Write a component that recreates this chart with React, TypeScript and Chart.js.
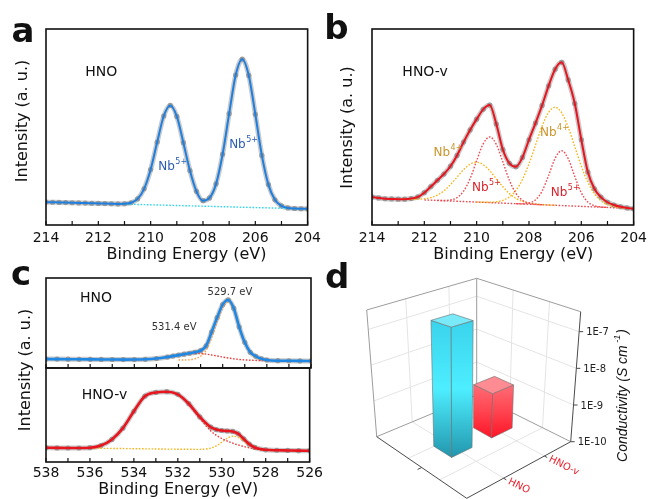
import React, { useEffect, useRef } from 'react';
import { Chart, registerables } from 'chart.js';

Chart.register(...registerables);
Chart.defaults.font.family = '"DejaVu Sans", sans-serif';
const FONT = '"DejaVu Sans", sans-serif';

// ---------------- Panel a : Nb 3d, HNO ----------------
const nbEnergy = [214, 213.75, 213.5, 213.25, 213, 212.75, 212.5, 212.25, 212, 211.75, 211.5, 211.25, 211, 210.75, 210.5, 210.25, 210, 209.75, 209.5, 209.25, 209, 208.75, 208.5, 208.25, 208, 207.75, 207.5, 207.25, 207, 206.75, 206.5, 206.25, 206, 205.75, 205.5, 205.25, 205, 204.75, 204.5, 204.25, 204];
const hnoNbFit = [11.7, 11.61, 11.53, 11.44, 11.35, 11.26, 11.18, 11.09, 11.0, 10.91, 10.83, 10.77, 10.83, 11.36, 13.32, 18.45, 28.3, 42.3, 55.6, 61.0, 55.4, 42.0, 27.8, 17.2, 12.4, 13.8, 21.0, 36.1, 56.8, 76.5, 84.6, 76.3, 56.5, 35.5, 20.6, 12.85, 9.73, 8.72, 8.43, 8.29, 8.2];
const hnoNbBaseEnergy = [211, 204];
const hnoNbBase = [10.65, 8.2];

// ---------------- Panel b : Nb 3d, HNO-v ----------------
const hnovNbFit = [14.3, 13.8, 13.4, 13.3, 13.2, 13.2, 13.5, 14.3, 16.5, 19.6, 22.8, 26.0, 30.0, 35.5, 42.3, 48.5, 54.0, 59.0, 61.2, 51.5, 38.5, 31.5, 29.7, 34.5, 43.5, 52.0, 61.0, 71.0, 79.5, 83.0, 74.0, 62.0, 43.5, 27.0, 18.5, 14.2, 11.6, 10.2, 9.3, 8.7, 8.3];
const hnovNbBaseEnergy = [212, 204];
const hnovNbBase = [12.8, 8.4];
const nb5HighEnergy = [211.5, 211.25, 211, 210.75, 210.5, 210.25, 210, 209.75, 209.5, 209.25, 209, 208.75, 208.5, 208.25, 208, 207.75, 207.5];
const nb5High = [12.55, 12.51, 12.77, 13.98, 17.27, 23.67, 32.8, 41.41, 44.93, 41.14, 32.25, 22.84, 16.17, 12.61, 11.12, 10.58, 10.35];
const nb4HighEnergy = [213, 212.75, 212.5, 212.25, 212, 211.75, 211.5, 211.25, 211, 210.75, 210.5, 210.25, 210, 209.75, 209.5, 209.25, 209, 208.75, 208.5, 208.25, 208, 207.75, 207.5, 207.25, 207];
const nb4High = [13.36, 13.23, 13.16, 13.17, 13.38, 13.99, 15.27, 17.44, 20.59, 24.43, 28.24, 31.04, 32.0, 30.76, 27.69, 23.61, 19.49, 16.06, 13.62, 12.07, 11.18, 10.69, 10.41, 10.21, 10.06];
const nb5LowEnergy = [208.5, 208.25, 208, 207.75, 207.5, 207.25, 207, 206.75, 206.5, 206.25, 206, 205.75, 205.5, 205.25, 205];
const nb5Low = [10.89, 10.85, 11.19, 12.83, 17.3, 25.28, 34.05, 37.91, 33.78, 24.73, 16.47, 11.73, 9.82, 9.2, 8.96];
const nb4LowEnergy = [210, 209.75, 209.5, 209.25, 209, 208.75, 208.5, 208.25, 208, 207.75, 207.5, 207.25, 207, 206.75, 206.5, 206.25, 206, 205.75, 205.5, 205.25, 205, 204.75, 204.5, 204.25, 204];
const nb4Low = [11.72, 11.62, 11.63, 11.85, 12.58, 14.3, 17.63, 23.19, 31.15, 40.81, 50.38, 57.49, 60.05, 57.21, 49.83, 39.99, 30.05, 21.81, 15.98, 12.38, 10.38, 9.37, 8.88, 8.6, 8.42];

// ---------------- Panel c : O 1s ----------------
const o1sTopEnergy = [538, 537.5, 537, 536.5, 536, 535.5, 535, 534.5, 534, 533.5, 533, 532.5, 532.25, 532, 531.75, 531.5, 531.25, 531, 530.75, 530.5, 530.25, 530, 529.75, 529.5, 529.25, 529, 528.75, 528.5, 528.25, 528, 527.5, 527, 526.5, 526];
const hnoO1sFit = [9.96, 9.87, 9.78, 9.69, 9.6, 9.51, 9.43, 9.36, 9.39, 9.68, 10.55, 12.19, 13.25, 14.33, 15.37, 16.37, 17.5, 19.2, 24.5, 40.0, 56.0, 70.4, 75.6, 66.5, 45.5, 28.5, 17.5, 13.0, 10.3, 8.9, 8.1, 7.98, 7.89, 7.8];
const hnoLatticeEnergy = [532, 531.75, 531.5, 531.25, 531, 530.75, 530.5, 530.25, 530, 529.75, 529.5, 529.25, 529, 528.75, 528.5, 528.25, 528, 527.5];
const hnoLattice = [8.89, 8.92, 9.2, 10.32, 13.0, 19.5, 33.5, 51.0, 66.5, 73.0, 64.5, 44.0, 27.0, 16.5, 11.5, 9.2, 8.4, 8.08];
const hnoDefectEnergy = [535, 534.5, 534, 533.5, 533, 532.5, 532.25, 532, 531.75, 531.5, 531.25, 531, 530.75, 530.5, 530.25, 530, 529.75, 529.5, 529.25, 529, 528.75, 528.5, 528.25, 528, 527.5];
const hnoDefect = [9.43, 9.36, 9.39, 9.68, 10.55, 12.19, 13.25, 14.33, 15.29, 15.96, 16.25, 16.05, 15.44, 14.48, 13.35, 12.17, 11.1, 10.2, 9.51, 9.01, 8.67, 8.45, 8.31, 8.2, 8.08];

const o1sBotEnergy = [538, 537.5, 537, 536.5, 536, 535.5, 535, 534.5, 534, 533.5, 533, 532.5, 532, 531.5, 531, 530.5, 530.25, 530, 529.75, 529.5, 529.25, 529, 528.75, 528.5, 528, 527.5, 527, 526.5, 526];
const hnovO1sFit = [15.2, 15.0, 14.9, 14.9, 15.2, 17.5, 24.0, 36.0, 54.0, 70.0, 74.0, 74.8, 72.0, 62.0, 48.0, 37.0, 34.5, 33.5, 33.0, 32.5, 30.0, 24.5, 19.0, 15.5, 13.0, 12.5, 12.3, 12.1, 12.0];
const hnovDefectEnergy = [538, 537, 536, 535.5, 535, 534.5, 534, 533.5, 533, 532.5, 532, 531.5, 531, 530.5, 530, 529.5, 529, 528.5, 528, 527, 526];
const hnovDefect = [15.24, 14.97, 15.0, 17.4, 23.8, 35.8, 53.8, 69.8, 73.8, 74.6, 71.5, 61.0, 46.5, 33.0, 25.0, 20.0, 16.5, 14.0, 13.0, 12.27, 12.0];
const hnovLatticeEnergy = [538, 536, 534, 532, 531, 530.5, 530.25, 530, 529.75, 529.5, 529.25, 529, 528.75, 528.5, 528, 527.5, 527, 526];
const hnovLattice = [15.24, 14.7, 14.16, 13.62, 13.47, 14.8, 17.1, 21.0, 25.1, 27.35, 26.28, 22.5, 18.14, 15.07, 12.74, 12.4, 12.27, 12.0];

// ---------------- Panel d : conductivity ----------------
const samples = ['HNO-v', 'HNO'];
const conductivity = [1.6e-9, 2.3e-7];

const xTitleText = 'Binding Energy (eV)';
const yTitleText = 'Intensity (a. u.)';

type P = { x: number; y: number };
const pts = (xs: number[], ys: number[]): P[] => xs.map((x, i) => ({ x, y: ys[i] }));

const fitLine = (data: P[], color: string, width = 2) => ({
  data, borderColor: color, borderWidth: width, pointRadius: 0,
  cubicInterpolationMode: 'monotone', fill: false, order: 0,
});
const dotted = (data: P[], color: string) => ({
  data, borderColor: color, borderWidth: 1.4, borderDash: [1.6, 1.6], pointRadius: 0,
  cubicInterpolationMode: 'monotone', fill: false, order: 1,
});
const markers = (data: P[]) => ({
  data, showLine: false, pointRadius: 2.6, pointBackgroundColor: 'rgba(135,135,135,0.75)',
  pointBorderWidth: 0, order: 2,
});
const band = (data: P[]) => ({
  data, borderColor: 'rgba(150,150,150,0.5)', borderWidth: 5, pointRadius: 0,
  cubicInterpolationMode: 'monotone', fill: false, order: 3,
});

type Note = { x: number; y: number; text: string; sup?: string; color: string; size: number; center?: boolean };
type DecorOpts = { letter?: { text: string; x: number; y: number }; xTitle?: P; yTitle?: P; notes?: Note[] };

function decor(o: DecorOpts) {
  return {
    id: 'decor',
    afterDraw(chart: any) {
      const { ctx, chartArea: ca } = chart;
      const xs = chart.scales.x;
      const ys = chart.scales.y;
      ctx.save();
      ctx.strokeStyle = '#111';
      ctx.lineWidth = 1.2;
      for (let e = Math.ceil(xs.min); e <= Math.floor(xs.max); e += 1) {
        const px = xs.getPixelForValue(e);
        ctx.beginPath();
        ctx.moveTo(px, ca.bottom);
        ctx.lineTo(px, ca.bottom - 4);
        ctx.stroke();
      }
      ctx.lineWidth = 1.6;
      ctx.strokeRect(ca.left, ca.top, ca.right - ca.left, ca.bottom - ca.top);
      for (const n of o.notes ?? []) {
        ctx.font = `${n.size}px ${FONT}`;
        ctx.fillStyle = n.color;
        ctx.textBaseline = 'middle';
        ctx.textAlign = 'left';
        const w = ctx.measureText(n.text).width;
        const px = xs.getPixelForValue(n.x);
        const py = ys.getPixelForValue(n.y);
        const left = n.center ? px - w / 2 : px;
        ctx.fillText(n.text, left, py);
        if (n.sup) {
          ctx.font = `${Math.round(n.size * 0.65)}px ${FONT}`;
          ctx.fillText(n.sup, left + w + 0.5, py - n.size * 0.42);
        }
      }
      ctx.fillStyle = '#111';
      if (o.xTitle) {
        ctx.font = `16px ${FONT}`;
        ctx.textAlign = 'center';
        ctx.textBaseline = 'alphabetic';
        ctx.fillText(xTitleText, o.xTitle.x, o.xTitle.y);
      }
      if (o.yTitle) {
        ctx.save();
        ctx.translate(o.yTitle.x, o.yTitle.y);
        ctx.rotate(-Math.PI / 2);
        ctx.font = `16px ${FONT}`;
        ctx.textAlign = 'center';
        ctx.textBaseline = 'middle';
        ctx.fillText(yTitleText, 0, 0);
        ctx.restore();
      }
      if (o.letter) {
        ctx.font = `bold 34px ${FONT}`;
        ctx.textAlign = 'left';
        ctx.textBaseline = 'alphabetic';
        ctx.fillText(o.letter.text, o.letter.x, o.letter.y);
      }
      ctx.restore();
    },
  };
}

function xpsConfig(c: {
  datasets: any[]; xMin: number; xMax: number; showTicks: boolean; axisH: number; tickPad: number;
  padding: any; plugin: any;
}): any {
  return {
    type: 'line',
    data: { datasets: c.datasets },
    options: {
      animation: false,
      responsive: false,
      devicePixelRatio: 1,
      events: [],
      layout: { padding: c.padding, autoPadding: false },
      plugins: { legend: { display: false }, tooltip: { enabled: false } },
      scales: {
        x: {
          type: 'linear', reverse: true, min: c.xMin, max: c.xMax, display: c.showTicks,
          grid: { display: false, drawTicks: false }, border: { display: false },
          ticks: { stepSize: 2, autoSkip: false, maxRotation: 0, minRotation: 0, padding: c.tickPad, color: '#111', font: { family: FONT, size: 14 } },
          afterFit: (s: any) => { s.height = c.axisH; },
        },
        y: { display: false, min: 0, max: 100 },
      },
    },
    plugins: [c.plugin],
  };
}

const makeA = () => xpsConfig({
  datasets: [
    fitLine(pts(nbEnergy, hnoNbFit), '#1f7fdf', 2),
    dotted(pts(hnoNbBaseEnergy, hnoNbBase), '#2fd6f0'),
    markers(pts(nbEnergy, hnoNbFit)),
    band(pts(nbEnergy, hnoNbFit)),
  ],
  xMin: 204, xMax: 214, showTicks: true, axisH: 43, tickPad: 5,
  padding: { left: 46, top: 29, right: 14, bottom: 0 },
  plugin: decor({
    letter: { text: 'a', x: 11.5, y: 42 },
    xTitle: { x: 186.5, y: 259 },
    yTitle: { x: 23, y: 121 },
    notes: [
      { x: 212.5, y: 78, text: 'HNO', color: '#111', size: 14 },
      { x: 209.71, y: 29.6, text: 'Nb', sup: '5+', color: '#2a5db0', size: 12 },
      { x: 207.0, y: 40.8, text: 'Nb', sup: '5+', color: '#2a5db0', size: 12 },
    ],
  }),
});

const makeB = () => xpsConfig({
  datasets: [
    fitLine(pts(nbEnergy, hnovNbFit), '#e8141e', 2),
    dotted(pts(nb5HighEnergy, nb5High), '#ee4a50'),
    dotted(pts(nb5LowEnergy, nb5Low), '#ee4a50'),
    dotted(pts(nb4HighEnergy, nb4High), '#f6b51c'),
    dotted(pts(nb4LowEnergy, nb4Low), '#f6b51c'),
    dotted(pts(hnovNbBaseEnergy, hnovNbBase), '#ee4a50'),
    markers(pts(nbEnergy, hnovNbFit)),
    band(pts(nbEnergy, hnovNbFit)),
  ],
  xMin: 204, xMax: 214, showTicks: true, axisH: 43, tickPad: 5,
  padding: { left: 52, top: 29, right: 12, bottom: 0 },
  plugin: decor({
    letter: { text: 'b', x: 4.3, y: 39 },
    xTitle: { x: 193.3, y: 259 },
    yTitle: { x: 27.5, y: 127.5 },
    notes: [
      { x: 212.84, y: 78, text: 'HNO-v', color: '#111', size: 14 },
      { x: 211.65, y: 36.7, text: 'Nb', sup: '4+', color: '#c9952b', size: 12 },
      { x: 210.18, y: 18.9, text: 'Nb', sup: '5+', color: '#d8232c', size: 12 },
      { x: 207.58, y: 47.2, text: 'Nb', sup: '4+', color: '#c9952b', size: 12 },
      { x: 207.17, y: 16.6, text: 'Nb', sup: '5+', color: '#d8232c', size: 12 },
    ],
  }),
});

const makeCTop = () => xpsConfig({
  datasets: [
    fitLine(pts(o1sTopEnergy, hnoO1sFit), '#1f88e5', 2.6),
    dotted(pts(hnoLatticeEnergy, hnoLattice), '#f5a052'),
    dotted(pts(hnoDefectEnergy, hnoDefect), '#ec3b3b'),
    markers(pts(o1sTopEnergy, hnoO1sFit)),
    band(pts(o1sTopEnergy, hnoO1sFit)),
  ],
  xMin: 526, xMax: 538, showTicks: false, axisH: 0, tickPad: 0,
  padding: { left: 46, top: 16, right: 15, bottom: 2 },
  plugin: decor({
    letter: { text: 'c', x: 11, y: 23 },
    notes: [
      { x: 536.46, y: 77.8, text: 'HNO', color: '#111', size: 14 },
      { x: 529.67, y: 84.4, text: '529.7 eV', color: '#333', size: 10, center: true },
      { x: 532.2, y: 45.6, text: '531.4 eV', color: '#333', size: 10, center: true },
    ],
  }),
});

const makeCBot = () => xpsConfig({
  datasets: [
    fitLine(pts(o1sBotEnergy, hnovO1sFit), '#e8141e', 2.6),
    dotted(pts(hnovDefectEnergy, hnovDefect), '#ec3b3b'),
    dotted(pts(hnovLatticeEnergy, hnovLattice), '#f6b51c'),
    markers(pts(o1sBotEnergy, hnovO1sFit)),
    band(pts(o1sBotEnergy, hnovO1sFit)),
  ],
  xMin: 526, xMax: 538, showTicks: true, axisH: 37, tickPad: 3,
  padding: { left: 46, top: 68, right: 15, bottom: 0 },
  plugin: decor({
    xTitle: { x: 178.3, y: 193.5 },
    yTitle: { x: 26, y: 70 },
    notes: [{ x: 536.37, y: 71.3, text: 'HNO-v', color: '#111', size: 14 }],
  }),
});

// ---------- panel d: 3D projection of a log-scale bar chart ----------
const D_ORIGIN = { x: 320, y: 262 };
const corner = (x: number, y: number): P => ({ x: x - D_ORIGIN.x, y: y - D_ORIGIN.y });
const BOX = {
  R0: corner(570.7, 441.7), F0: corner(466.7, 498.3), B0: corner(476.7, 395), L0: corner(376.7, 436.7),
  R1: corner(580.7, 311.7), F1: corner(470.7, 343.4), B1: corner(476.7, 278.3), L1: corner(366.7, 310),
};
const bil = (r: P, f: P, b: P, l: P, u: number, w: number): P => ({
  x: r.x * (1 - u) * (1 - w) + f.x * u * (1 - w) + b.x * (1 - u) * w + l.x * u * w,
  y: r.y * (1 - u) * (1 - w) + f.y * u * (1 - w) + b.y * (1 - u) * w + l.y * u * w,
});
const proj = (u: number, w: number, h: number): P => {
  const a = bil(BOX.R0, BOX.F0, BOX.B0, BOX.L0, u, w);
  const b = bil(BOX.R1, BOX.F1, BOX.B1, BOX.L1, u, w);
  return { x: a.x + (b.x - a.x) * h, y: a.y + (b.y - a.y) * h };
};
const barStyles = [
  { top: '#ff8b93', side: ['#ff6d76', '#ff4450', '#ff1426'] },
  { top: '#7beaf8', side: ['#3ad3ec', '#4deeff', '#2296ad'] },
];

const bars3d = {
  id: 'bars3d',
  afterDatasetsDraw(chart: any) {
    const { ctx } = chart;
    const xs = chart.scales.x;
    const ys = chart.scales.y;
    const uOf = (v: number) => (xs.getPixelForValue(v) - xs.left) / (xs.right - xs.left);
    const hOf = (v: number) => (ys.bottom - ys.getPixelForValue(v)) / (ys.bottom - ys.top);
    const line = (a: P, b: P, color: string, lw: number) => {
      ctx.strokeStyle = color; ctx.lineWidth = lw;
      ctx.beginPath(); ctx.moveTo(a.x, a.y); ctx.lineTo(b.x, b.y); ctx.stroke();
    };
    ctx.save();
    ctx.lineJoin = 'round';
    const grid = '#e4e4e4';
    const lo = Math.ceil(Math.log10(ys.min) - 1e-9);
    const hi = Math.floor(Math.log10(ys.max) + 1e-9);
    for (let k = lo + 1; k <= hi; k++) {
      const h = hOf(Math.pow(10, k));
      line(proj(0, 1, h), proj(1, 1, h), grid, 1);
      line(proj(0, 0, h), proj(0, 1, h), grid, 1);
    }
    samples.forEach((_, i) => {
      const u = uOf(i);
      line(proj(u, 1, 0), proj(u, 1, 1), grid, 1);
      line(proj(u, 0, 0), proj(u, 1, 0), grid, 1);
    });
    [0.3, 0.65].forEach((w) => {
      line(proj(0, w, 0), proj(0, w, 1), grid, 1);
      line(proj(0, w, 0), proj(1, w, 0), grid, 1);
    });
    const edge = '#9c9c9c';
    line(BOX.L1, BOX.B1, edge, 1);
    line(BOX.B1, BOX.R1, edge, 1);
    line(BOX.L1, BOX.L0, edge, 1);
    line(BOX.B1, BOX.B0, edge, 1);
    line(BOX.L0, BOX.B0, edge, 1);
    line(BOX.B0, BOX.R0, edge, 1);
    const axis = '#4a4a4a';
    line(BOX.R1, BOX.R0, axis, 1);
    line(BOX.R0, BOX.F0, axis, 1);
    line(BOX.L0, BOX.F0, axis, 1);
    line(proj(1, 0.5, 0), proj(1.04, 0.5, 0), axis, 1);

    // z ticks + labels
    ctx.font = `10px ${FONT}`;
    ctx.fillStyle = '#222';
    ctx.textAlign = 'left';
    ctx.textBaseline = 'middle';
    for (let k = lo; k <= hi; k++) {
      const p = proj(0, 0, hOf(Math.pow(10, k)));
      line(p, { x: p.x + 4, y: p.y }, axis, 1);
      ctx.fillText(`1E${k}`, p.x + 7, p.y + 1);
    }
    // category ticks + labels
    const ang = Math.atan2(BOX.R0.y - BOX.B0.y, BOX.R0.x - BOX.B0.x);
    samples.forEach((s, i) => {
      const u = uOf(i);
      line(proj(u, 0, 0), proj(u, -0.03, 0), axis, 1);
      const p = proj(u, -0.035, 0);
      ctx.save();
      ctx.translate(p.x, p.y);
      ctx.rotate(ang);
      ctx.font = `10px ${FONT}`;
      ctx.fillStyle = '#e8202c';
      ctx.fillText(s, 2, 0);
      ctx.restore();
    });

    // bars, back to front
    const face = (poly: P[], fill: any) => {
      ctx.beginPath();
      ctx.moveTo(poly[0].x, poly[0].y);
      for (let k = 1; k < poly.length; k++) ctx.lineTo(poly[k].x, poly[k].y);
      ctx.closePath();
      ctx.fillStyle = fill;
      ctx.fill();
      ctx.strokeStyle = 'rgba(110,110,110,0.75)';
      ctx.lineWidth = 0.8;
      ctx.stroke();
    };
    const grad = (poly: P[], stops: string[]) => {
      const yy = poly.map((p) => p.y);
      const g = ctx.createLinearGradient(0, Math.min(...yy), 0, Math.max(...yy));
      stops.forEach((c, k) => g.addColorStop(k / (stops.length - 1), c));
      return g;
    };
    const orderIdx = samples.map((_, i) => i).sort((a, b) => uOf(a) - uOf(b));
    for (const i of orderIdx) {
      const u = uOf(i);
      const h = hOf(conductivity[i]);
      const ua = u - 0.1, ub = u + 0.1, wa = 0.457, wb = 0.653;
      const st = barStyles[i];
      const left = [proj(ub, wb, 0), proj(ub, wa, 0), proj(ub, wa, h), proj(ub, wb, h)];
      const right = [proj(ua, wa, 0), proj(ub, wa, 0), proj(ub, wa, h), proj(ua, wa, h)];
      const top = [proj(ua, wa, h), proj(ub, wa, h), proj(ub, wb, h), proj(ua, wb, h)];
      face(left, grad(left, st.side));
      face(right, grad(right, st.side));
      face(top, st.top);
    }

    // axis title
    ctx.save();
    ctx.translate(623 - D_ORIGIN.x, 396 - D_ORIGIN.y);
    ctx.rotate(-Math.PI / 2);
    const mainF = 'italic 14px "Liberation Sans", sans-serif';
    const supF = 'italic 9px "Liberation Sans", sans-serif';
    const main = 'Conductivity (S cm';
    ctx.font = mainF;
    const w1 = ctx.measureText(main).width;
    const w3 = ctx.measureText(')').width;
    ctx.font = supF;
    const w2 = ctx.measureText(' -1').width;
    const x0 = -(w1 + w2 + w3) / 2;
    ctx.fillStyle = '#111';
    ctx.textAlign = 'left';
    ctx.textBaseline = 'middle';
    ctx.font = mainF;
    ctx.fillText(main, x0, 0);
    ctx.font = supF;
    ctx.fillText(' -1', x0 + w1, -6);
    ctx.font = mainF;
    ctx.fillText(')', x0 + w1 + w2 + 1, 0);
    ctx.restore();

    ctx.font = `bold 34px ${FONT}`;
    ctx.fillStyle = '#111';
    ctx.textBaseline = 'alphabetic';
    ctx.fillText('d', 325 - D_ORIGIN.x, 288 - D_ORIGIN.y);
    ctx.restore();
  },
};

const makeD = (): any => ({
  type: 'bar',
  data: {
    datasets: [{
      data: samples.map((_, i) => ({ x: i, y: conductivity[i] })),
      backgroundColor: 'rgba(0,0,0,0)', borderWidth: 0,
    }],
  },
  options: {
    animation: false, responsive: false, devicePixelRatio: 1, events: [],
    layout: { padding: 0, autoPadding: false },
    plugins: { legend: { display: false }, tooltip: { enabled: false } },
    scales: {
      x: { type: 'linear', min: -0.39, max: 1.65, display: false },
      y: { type: 'logarithmic', min: 1e-10, max: 3.5e-7, display: false },
    },
  },
  plugins: [bars3d],
});

function ChartCanvas(props: { make: () => any; left: number; top: number; width: number; height: number }) {
  const ref = useRef<HTMLCanvasElement>(null);
  useEffect(() => {
    const chart = new Chart(ref.current as HTMLCanvasElement, props.make());
    return () => chart.destroy();
  }, []);
  return (
    <canvas
      ref={ref}
      width={props.width}
      height={props.height}
      style={{ position: 'absolute', left: props.left, top: props.top, width: props.width, height: props.height }}
    />
  );
}

export default function App() {
  return (
    <div style={{ position: 'fixed', left: 0, top: 0, width: 652, height: 499, background: '#fff', overflow: 'hidden' }}>
      <ChartCanvas left={0} top={0} width={326} height={268} make={makeA} />
      <ChartCanvas left={320} top={0} width={332} height={268} make={makeB} />
      <ChartCanvas left={0} top={262} width={326} height={108} make={makeCTop} />
      <ChartCanvas left={0} top={300} width={326} height={199} make={makeCBot} />
      <ChartCanvas left={320} top={262} width={332} height={237} make={makeD} />
    </div>
  );
}
